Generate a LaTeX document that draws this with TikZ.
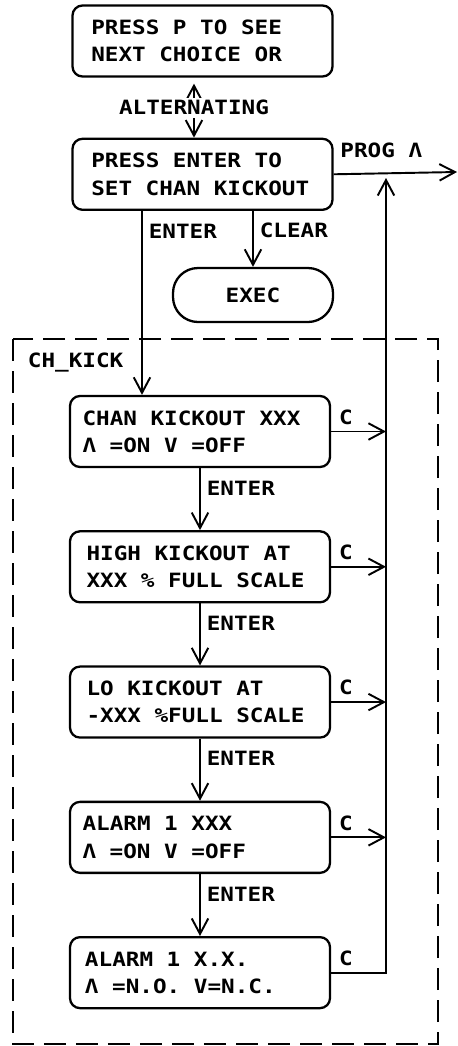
\documentclass[tikz,border=0pt]{standalone}
\usepackage{fontspec}
\newfontfamily\plotff[FakeStretch=1.15]{DejaVu Sans Mono}
\usetikzlibrary{positioning,arrows.meta}
\DeclareRobustCommand\plotfont{\plotff\bfseries\fontsize{11.2}{15.5}\selectfont}

\begin{document}
\begin{tikzpicture}[font=\plotfont,
  line width=1.1pt, >={Straight Barb[length=3.1mm,width=3.3mm]},
  n/.style={draw,line width=1.3pt,rounded corners=0.2cm,text width=4.7cm,inner xsep=0.25cm,minimum height=1.42cm,align=left,
    execute at begin node={\spaceskip=0.692em\relax}},
  wide/.style={text width=4.45cm,inner xsep=0.375cm},
  frame/.style={dash pattern=on 0.44cm off 0.2cm}]
\useasboundingbox (0,0) rectangle (9.16,-20.92);
% menu level
\node[n,wide] (pick) at (4.05,-0.82) {PRESS P TO SEE\\NEXT CHOICE OR};
\node[n,wide,below=1.2cm of pick] (setk) {PRESS ENTER TO\\SET CHAN KICKOUT};
\node[draw,line width=1.3pt,rounded corners=0.5cm,minimum width=3.2cm,minimum height=1.08cm] (exec) at (5.06,-5.9) {EXEC};
\coordinate (out) at (9.14,-3.44);
\coordinate (ret) at (7.72,-3.56);
% CH_KICK steps
\node[n] (chan) at (4.0,-8.63) {CHAN KICKOUT XXX\\Λ =ON V =OFF};
\node[n,below=1.24cm of chan,text width=4.54cm,inner xsep=0.33cm] (high) {HIGH KICKOUT AT\\XXX \% FULL SCALE};
\node[n,below=1.24cm of high,text width=4.54cm,inner xsep=0.33cm] (lo) {LO KICKOUT AT\\-XXX \%FULL SCALE};
\node[n,below=1.24cm of lo] (alrm) {ALARM 1 XXX\\Λ =ON V =OFF};
\node[n,below=1.24cm of alrm,text width=4.6cm,inner xsep=0.3cm] (alrmx) {ALARM 1 X.X.\\Λ =N.O. V=N.C.};
\draw[frame] (0.26,-6.78) rectangle (8.76,-20.88);
\node[anchor=west,inner sep=0pt] (kick) at (0.54,-7.26) {CH\_KICK};
% connectors
\draw[<->,shorten <=0.12cm] ([xshift=-0.17cm]pick.south) -- node[fill=white,inner sep=1.5pt] {ALTERNATING} ([xshift=-0.17cm]setk.north);
\draw[->] (setk.east) -- node[above right,pos=0,yshift=0.2cm] {PROG Λ} (out);
\draw[->] ([xshift=-1.21cm]setk.south) -- node[right,pos=0.11] {ENTER} ([xshift=-1.21cm]setk.south |- chan.north);
\draw[->] (setk.south -| exec) -- node[right,pos=0.35] {CLEAR} (exec);
\draw[->] (chan) -- node[right,pos=0.32] {ENTER} (high);
\draw[->] (high) -- node[right,pos=0.32] {ENTER} (lo);
\draw[->] (lo) -- node[right,pos=0.32] {ENTER} (alrm);
\draw[->] (alrm) -- node[right,pos=0.32] {ENTER} (alrmx);
\foreach \s in {chan,high,lo,alrm}
  \draw[->] (\s.east) -- node[above,pos=0.27] {C} (\s.east -| ret);
\draw[->] (alrmx.east) -- node[above,pos=0.27] {C} (alrmx.east -| ret) -- (ret);
\end{tikzpicture}
\end{document}
